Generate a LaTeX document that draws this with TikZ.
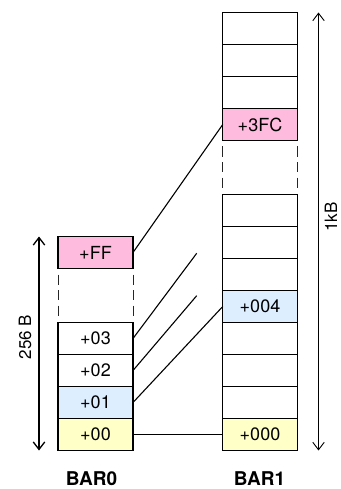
\documentclass[tikz,border=0pt]{standalone}
\usepackage{fontspec}
\setmainfont{TeX Gyre Heros}
\usetikzlibrary{arrows.meta}
\definecolor{cpink}{RGB}{255,187,221}
\definecolor{cblue}{RGB}{221,238,255}
\definecolor{cyellow}{RGB}{255,255,200}
\tikzset{
  cellA/.style={draw=black, line width=1.2pt, minimum width=75pt, minimum height=32pt, inner sep=0pt, outer sep=0pt, font=\fontsize{18}{19}\selectfont},
  cellB/.style={cellA, minimum width=74.5pt},
  gapline/.style={draw=black!85, line width=0.9pt, dash pattern=on 10pt off 5.5pt},
  conn/.style={draw=black, line width=1.1pt},
  dimarrow/.style={draw=black, {Straight Barb[length=7.5pt,width=11.5pt]}-{Straight Barb[length=7.5pt,width=11.5pt]}},
  lbl/.style={font=\fontsize{17}{18}\selectfont, inner sep=0pt},
  barlbl/.style={font=\fontsize{19}{20}\selectfont\bfseries, inner sep=0pt, anchor=base},
}
\begin{document}
\begin{tikzpicture}[x=1pt,y=-1pt]
\useasboundingbox (0,0) rectangle (340,489);
% BAR0
\node[cellA, fill=cpink] (ff) at (95.5,252.5) {+FF};
\node[cellA] (b03) at (95.5,338.5) {+03};
\node[cellA] (b02) at (95.5,370.5) {+02};
\node[cellA, fill=cblue] (b01) at (95.5,402.5) {+01};
\node[cellA, fill=cyellow] (b00) at (95.5,434.5) {+00};
\coordinate (g0lt) at (58,274.5); \coordinate (g0lb) at (58,317);
\coordinate (g0rt) at (133,274.5); \coordinate (g0rb) at (133,317);
\draw[gapline] (g0lt) -- (g0lb);
\draw[gapline] (g0rt) -- (g0rb);
% BAR1
\node[cellB] (r1) at (260,28.5) {};
\node[cellB] (r2) at (260,60.5) {};
\node[cellB] (r3) at (260,92.5) {};
\node[cellB, fill=cpink] (fc) at (260,124.5) {+3FC};
\node[cellB] (r5) at (260,210.5) {};
\node[cellB] (r6) at (260,242.5) {};
\node[cellB] (r7) at (260,274.5) {};
\node[cellB, fill=cblue] (b004) at (260,306.5) {+004};
\node[cellB] (r9) at (260,338.5) {};
\node[cellB] (r10) at (260,370.5) {};
\node[cellB] (r11) at (260,402.5) {};
\node[cellB, fill=cyellow] (b000) at (260,434.5) {+000};
\coordinate (g1lt) at (222.75,146.5); \coordinate (g1lb) at (222.75,189);
\coordinate (g1rt) at (297.25,146.5); \coordinate (g1rb) at (297.25,189);
\draw[gapline] (g1lt) -- (g1lb);
\draw[gapline] (g1rt) -- (g1rb);
% connectors
\coordinate (e03) at (196.7,253.3);
\coordinate (e02) at (196.7,295.7);
\draw[conn] (ff.east) -- (fc.west);
\draw[conn] (b03.east) -- (e03);
\draw[conn] (b02.east) -- (e02);
\draw[conn] (b01.east) -- (b004.west);
\draw[conn] (b00.east) -- (b000.west);
% dimension arrows
\coordinate (a0t) at (39,236.5); \coordinate (a0b) at (39,450.5);
\draw[dimarrow, line width=1.3pt] (a0t) -- (a0b);
\node[lbl, rotate=90] (l256) at (25,337) {256 B};
\coordinate (a1t) at (318.5,12.5); \coordinate (a1b) at (318.5,450.5);
\draw[dimarrow, line width=0.9pt] (a1t) -- (a1b);
\node[lbl, rotate=90] (l1k) at (331,217) {1kB};
% titles
\node[barlbl] (t0) at (91.5,485) {BAR0};
\node[barlbl] (t1) at (259.5,485) {BAR1};
\end{tikzpicture}
\end{document}
